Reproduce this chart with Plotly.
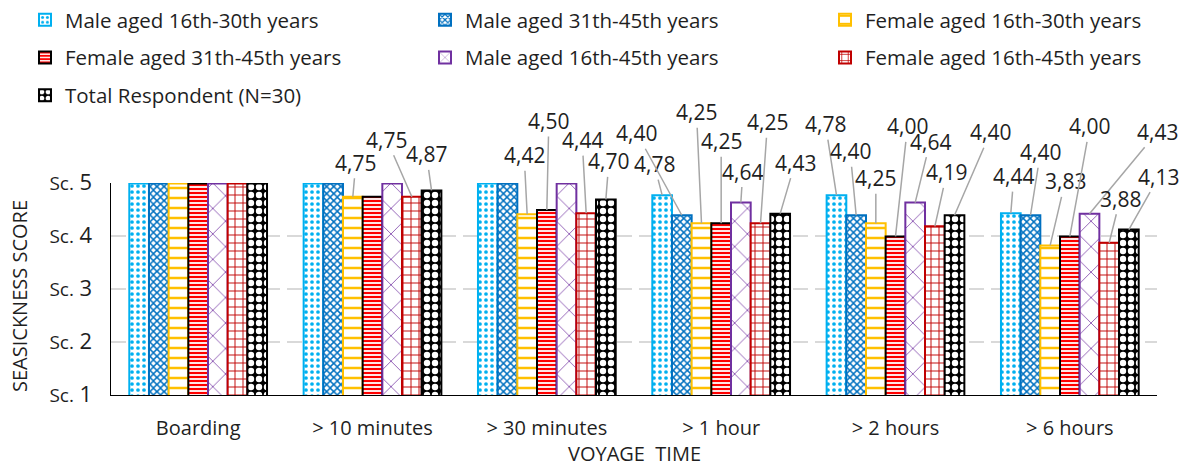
import plotly.graph_objects as go

# ---- data -------------------------------------------------------------
categories = ["Boarding", "> 10 minutes", "> 30 minutes", "> 1 hour", "> 2 hours", "> 6 hours"]
series_names = [
    "Male aged 16th-30th years",
    "Male aged 31th-45th years",
    "Female aged 16th-30th years",
    "Female aged 31th-45th years",
    "Male aged 16th-45th years",
    "Female aged 16th-45th years",
    "Total Respondent (N=30)",
]
male_16_30 = [5, 5, 5, 4.78, 4.78, 4.44]
male_31_45 = [5, 5, 5, 4.40, 4.40, 4.40]
female_16_30 = [5, 4.75, 4.42, 4.25, 4.25, 3.83]
female_31_45 = [5, 4.75, 4.50, 4.25, 4.00, 4.00]
male_16_45 = [5, 5, 5, 4.64, 4.64, 4.43]
female_16_45 = [5, 4.75, 4.44, 4.25, 4.19, 3.88]
total_resp = [5, 4.87, 4.70, 4.43, 4.40, 4.13]
score_ticks = [1, 2, 3, 4, 5]

series_values = [male_16_30, male_31_45, female_16_30, female_31_45,
                 male_16_45, female_16_45, total_resp]

# ---- styling ----------------------------------------------------------
FONT = "Open Sans"
TEXT = "#1f1f1f"
BARGAP = 0.21
n_series = len(series_values)

# (line colour, pattern shape, pattern fg, pattern bg, size, solidity)
styles = [
    ("#00B0F0", ".", "#00B0F0", "white", 6, 0.3),
    ("#0070C0", "x", "#0070C0", "white", 5, 0.5),
    ("#FFC000", "-", "#FFC000", "white", 10, 0.25),
    ("#000000", "-", "#FF0000", "white", 4, 0.55),
    ("#7030A0", "x", "#7030A0", "white", 18, 0.08),
    ("#C00000", "+", "#C00000", "white", 8, 0.22),
    ("#000000", ".", "#FFFFFF", "#000000", 8, 0.5),
]
# legend columns: series 0,3,6 | 1,4 | 2,5
legend_of = ["legend", "legend2", "legend3", "legend", "legend2", "legend3", "legend"]
legend_cols_px = {"legend": 25, "legend2": 425, "legend3": 825}

# value-label leader offsets (series, category) -> (dx, dy) in px
label_offsets = {
    (2, 1): (3, -34), (5, 1): (-25, -57), (6, 1): (-5, -36),
    (2, 2): (-3, -59), (3, 2): (2, -89), (5, 2): (-4, -73), (6, 2): (3, -38),
    (0, 3): (-8, -31), (1, 3): (-45, -82), (2, 3): (-5, -111), (3, 3): (0, -82),
    (4, 3): (2, -31), (5, 3): (7, -101), (6, 3): (15, -51),
    (0, 4): (-11, -71), (1, 4): (-6, -64), (2, 4): (0, -45), (3, 4): (12, -110),
    (4, 4): (15, -61), (5, 4): (12, -54), (6, 4): (36, -83),
    (0, 5): (3, -37), (1, 5): (10, -63), (2, 5): (15, -64), (3, 5): (20, -110),
    (4, 5): (68, -82), (5, 5): (11, -44), (6, 5): (30, -53),
}

W, H = 1187, 470
M_L, M_R, M_T, M_B = 111, 30, 183, 75
plot_w = W - M_L - M_R
plot_h = H - M_T - M_B

x_idx = list(range(len(categories)))

fig = go.Figure()
for i, (name, vals) in enumerate(zip(series_names, series_values)):
    line_c, shape, fg, bg, size, sol = styles[i]
    fig.add_trace(go.Bar(
        x=x_idx, y=vals, name=name, legend=legend_of[i], legendgroup=f"g{i}",
        marker=dict(
            color=fg,
            line=dict(color=line_c, width=2),
            pattern=dict(shape=shape, fgcolor=fg, bgcolor=bg,
                         size=size, solidity=sol, fillmode="replace"),
        ),
    ))

bar_w = (1 - BARGAP) / n_series
annotations = []
for (s, c), (dx, dy) in label_offsets.items():
    v = series_values[s][c]
    annotations.append(dict(
        x=c + (s - (n_series - 1) / 2) * bar_w, y=v, xref="x", yref="y",
        text=f"{v:.2f}".replace(".", ","),
        showarrow=True, arrowhead=0, arrowwidth=1.5, arrowcolor="#A6A6A6",
        standoff=0, ax=dx, ay=dy,
        font=dict(family=FONT, size=21, color=TEXT),
    ))

# axis titles
annotations.append(dict(
    text="VOYAGE  TIME", xref="paper", yref="paper", x=0.5, y=-(469 - M_T - plot_h) / plot_h,
    xanchor="center", yanchor="bottom", showarrow=False,
    font=dict(family=FONT, size=20, color=TEXT),
))
annotations.append(dict(
    text="SEASICKNESS SCORE", xref="paper", yref="paper",
    x=-(M_L - 19) / plot_w, y=(M_T + plot_h - 296) / plot_h,
    xanchor="center", yanchor="middle", textangle=-90, showarrow=False,
    font=dict(family=FONT, size=20, color=TEXT),
))

legend_common = dict(orientation="v", xref="paper", yref="container",
                     xanchor="left", yanchor="top", y=1.0,
                     font=dict(family=FONT, size=20.5, color=TEXT),
                     tracegroupgap=8, bgcolor="rgba(0,0,0,0)",
                     traceorder="grouped")
legends = {k: dict(legend_common, x=(px - M_L) / plot_w) for k, px in legend_cols_px.items()}

fig.update_layout(
    width=W, height=H,
    margin=dict(l=M_L, r=M_R, t=M_T, b=M_B),
    paper_bgcolor="white", plot_bgcolor="white",
    barmode="group", bargap=BARGAP, bargroupgap=0,
    font=dict(family=FONT, color=TEXT),
    annotations=annotations,
    xaxis=dict(
        tickvals=x_idx, ticktext=categories, range=[-0.5, len(categories) - 0.5],
        showgrid=False, showline=True, linecolor="#000000", linewidth=1,
        ticks="", tickfont=dict(family=FONT, size=20, color=TEXT),
        ticklabelstandoff=15,
    ),
    yaxis=dict(
        range=[1, 5.01], tickvals=score_ticks,
        ticktext=[f"Sc.<span style='font-size:22px'> {t}</span>" for t in score_ticks],
        showgrid=True, gridcolor="#D9D9D9", gridwidth=2, griddash="15px,7px",
        showline=True, linecolor="#000000", linewidth=1, zeroline=False,
        ticks="", tickfont=dict(family=FONT, size=19, color=TEXT),
        ticklabelstandoff=14,
    ),
    **legends,
)

fig.write_html("out.html")
